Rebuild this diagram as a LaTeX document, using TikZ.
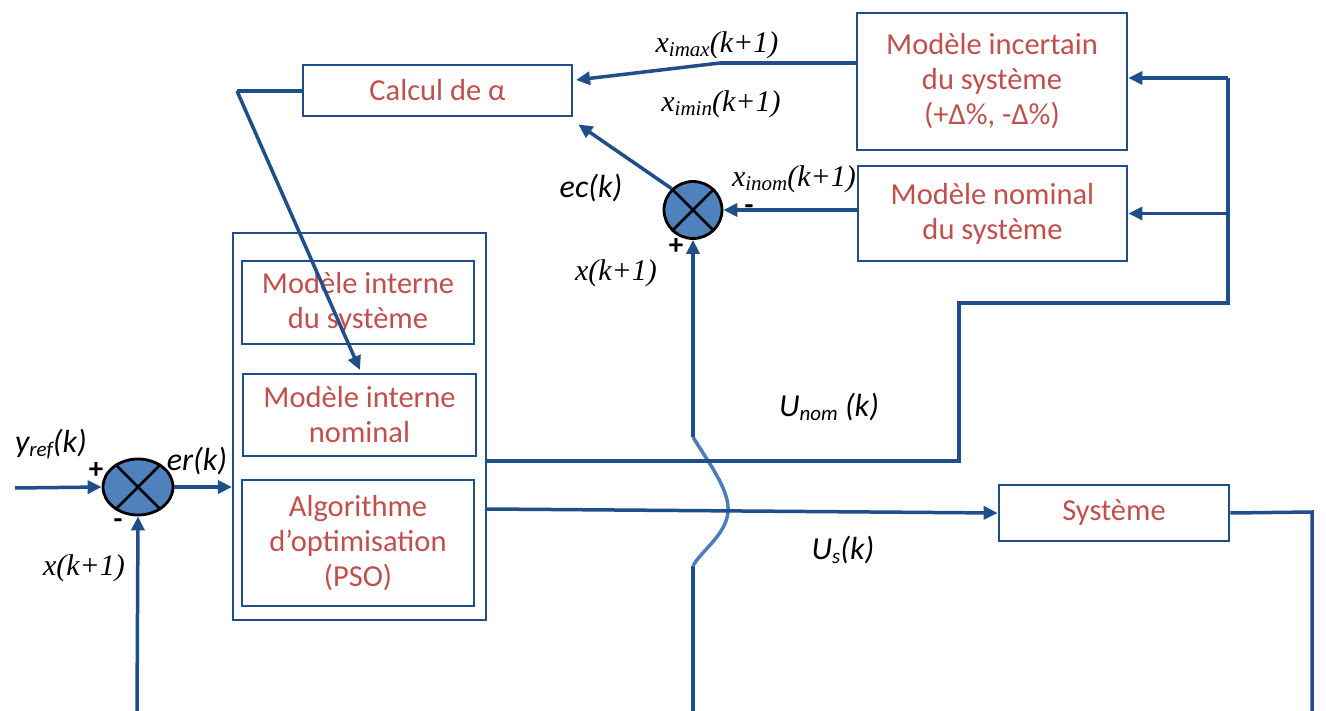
\documentclass[tikz,border=0pt]{standalone}
\usepackage{fontspec}
\setmainfont{Carlito}
\newfontfamily\tms{Liberation Serif}
\usetikzlibrary{arrows.meta,shapes.geometric}
\definecolor{ln}{HTML}{1F4E89}
\definecolor{fillb}{HTML}{4F81BD}
\definecolor{wavec}{HTML}{4A7EBB}
\definecolor{txt}{HTML}{C0504D}
\tikzset{
  box/.style={draw=ln, line width=2.8pt, rectangle, align=center, text=txt,
    font=\fontsize{30.5}{35}\selectfont, inner sep=0pt},
  conn/.style={draw=ln, line width=3.5pt},
  arr/.style={conn, -{Triangle[length=14pt,width=13pt]}},
  sumj/.style={ellipse, draw=black, line width=2.8pt, fill=fillb, inner sep=0pt},
  tlab/.style={font=\fontsize{30}{30}\selectfont\tms\itshape, inner sep=0pt},
  slab/.style={font=\fontsize{32}{32}\selectfont\itshape, inner sep=0pt},
  sgn/.style={font=\fontsize{29}{29}\selectfont\bfseries, inner sep=0pt}
}
\newcommand{\sbt}[1]{\raisebox{-4pt}{\fontsize{21}{21}\selectfont #1}}
\begin{document}
\begin{tikzpicture}[x=1pt,y=-1pt]
\useasboundingbox[fill=white] (0,0) rectangle (1326,711);
% boxes
\node[box, minimum width=269pt, minimum height=51pt] (calc) at (437.5,90.5) {Calcul de α};
\node[box, minimum width=270pt, minimum height=137pt] (inc) at (992,81.5) {Modèle incertain\\du système\\(+Δ\%, -Δ\%)};
\node[box, minimum width=269pt, minimum height=95pt] (nom) at (992.5,213.5) {Modèle nominal\\du système};
\node[draw=ln, line width=2.2pt, minimum width=253pt, minimum height=387pt, inner sep=0pt] (outer) at (359.5,426.5) {};
\node[box, minimum width=232pt, minimum height=83pt] (mis) at (358,302.5) {Modèle interne\\du système};
\node[box, minimum width=233pt, minimum height=82pt] (min) at (359.5,415) {Modèle interne\\nominal};
\node[box, minimum width=232pt, minimum height=126pt] (alg) at (358,543) {Algorithme\\d’optimisation\\(PSO)};
\node[box, minimum width=230pt, minimum height=56pt] (sys) at (1114,513) {Système};
% summing junctions
\node[sumj, minimum width=70pt, minimum height=56pt] (s1) at (138,487) {};
\draw[line width=2.8pt] (s1.45) -- (s1.225) (s1.135) -- (s1.315);
\node[sumj, minimum width=58pt, minimum height=57pt] (s2) at (693,210) {};
\draw[line width=2.8pt] (s2.45) -- (s2.225) (s2.135) -- (s2.315);
% coordinates
\coordinate (inL) at (15,488);
\coordinate (fb1) at (137,711);
\coordinate (k1) at (720,63);
\coordinate (k1t) at (576,80);
\coordinate (k2) at (237,91);
\coordinate (k2t) at (360,370);
\coordinate (wt) at (693,437);
\coordinate (wb) at (693,566);
\coordinate (fb2) at (693,711);
\coordinate (u1) at (959,461);
\coordinate (u2) at (959,303);
\coordinate (u3) at (1228,303);
\coordinate (u4) at (1228,78);
\coordinate (ys1) at (1312,512);
\coordinate (ys2) at (1312,711);
% connectors
\draw[arr] (inL) -- (s1.west);
\draw[arr] (fb1) -- (s1.south);
\draw[arr] (s1.east) -- (outer.west |- s1.east);
\draw[arr] (nom.west |- s2.east) -- (s2.east);
\draw[arr] (s2.135) -- ([xshift=5pt,yshift=-7pt]calc.south east);
\draw[conn] (inc.west |- k1) -- (k1);
\draw[arr] (k1) -- (k1t);
\draw[conn] (calc.west |- k2) -- (k2);
\draw[arr] (k2) -- (k2t);
\draw[conn] (fb2) -- (wb);
\draw[draw=wavec, line width=3.5pt] (wt) .. controls (708,462) and (730,490) .. (728,512) .. controls (726,535) and (700,552) .. (wb);
\draw[arr] (wt) -- (s2.south);
\draw[conn] (outer.east |- u1) -- (u1) -- (u2) -- (u3) -- (u4);
\draw[arr] (u4) -- (inc.east |- u4);
\draw[arr] (u3 |- nom.east) -- (nom.east);
\draw[arr] (outer.east |- 0,509) -- (sys.west);
\draw[conn] (sys.east) -- (ys1) -- (ys2);
% labels
\node[tlab] (l1) at (717,45) {x\sbt{imax}(k+1)};
\node[tlab] (l2) at (721,104) {x\sbt{imin}(k+1)};
\node[slab] (l3) at (591,188) {ec(k)};
\node[tlab] (l4) at (794,179) {x\sbt{inom}(k+1)};
\node[sgn] (m2) at (749,210) {-};
\node[sgn] (p2) at (676,246) {+};
\node[tlab] (l5) at (616,273) {x(k+1)};
\node[slab] (l6) at (829,407) {U\sbt{nom} (k)};
\node[slab] (l7) at (843,550) {U\sbt{s}(k)};
\node[slab] (l8) at (51,444) {y\sbt{ref}(k)};
\node[slab] (l9) at (197,461) {er(k)};
\node[sgn] (p1) at (96,470) {+};
\node[sgn] (m1) at (118,524) {-};
\node[tlab] (l10) at (84,568) {x(k+1)};
\end{tikzpicture}
\end{document}
